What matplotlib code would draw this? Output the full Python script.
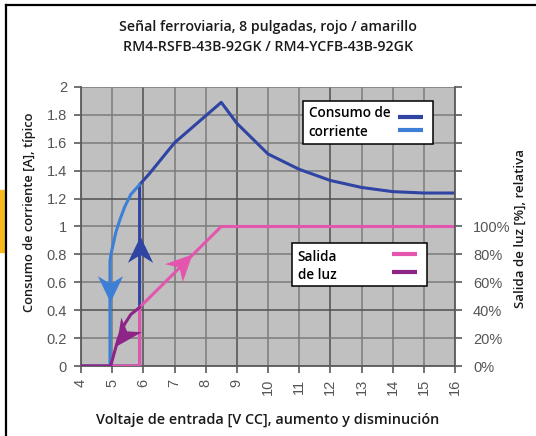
import matplotlib
matplotlib.use("Agg")
import matplotlib.pyplot as plt
from matplotlib.lines import Line2D
from matplotlib.patches import Rectangle
from matplotlib.path import Path
from matplotlib.markers import MarkerStyle
from matplotlib.transforms import Affine2D

# Data
volt_up = [4, 5.88, 5.88, 6.2, 7.0, 8.5, 9.0, 10.0, 11.0, 12.0, 13.0, 14.0, 15.0, 16.0]
amps_up = [0, 0, 1.30, 1.38, 1.60, 1.89, 1.74, 1.52, 1.41, 1.33, 1.28, 1.25, 1.24, 1.24]

volt_down = [5.88, 5.6, 5.4, 5.25, 5.12, 5.03, 4.96, 4.93, 4.93]
amps_down = [1.30, 1.23, 1.14, 1.05, 0.96, 0.87, 0.80, 0.75, 0.0]

light_up_v = [5.0, 5.88, 5.88, 8.5, 16.0]
light_up = [0, 0, 0.42, 1.0, 1.0]

light_down_v = [5.88, 5.6, 5.4, 5.2, 5.05, 4.95, 4.0]
light_down = [0.42, 0.37, 0.30, 0.20, 0.08, 0.0, 0.0]

x_ticks = list(range(4, 17))
y_ticks = [0, 0.2, 0.4, 0.6, 0.8, 1, 1.2, 1.4, 1.6, 1.8, 2]
y_tick_labels = ["0", "0.2", "0.4", "0.6", "0.8", "1", "1.2", "1.4", "1.6", "1.8", "2"]
pct_labels = ["0%", "20%", "40%", "60%", "80%", "100%"]

DARK_BLUE = "#2f44a3"
LIGHT_BLUE = "#3d7fd6"
PINK = "#e456ae"
PURPLE = "#8e2487"
TICK_GRAY = "#555555"

plt.rcParams["font.family"] = ["Open Sans", "DejaVu Sans"]

W, H = 536, 436
fig = plt.figure(figsize=(W / 100, H / 100), dpi=100)

# frame lines and orange tab
fig.add_artist(Line2D([6 / W, 6 / W], [0, 1 - 5 / H], transform=fig.transFigure, color="black", lw=1.6))
fig.add_artist(Line2D([6 / W, 1], [1 - 5 / H, 1 - 5 / H], transform=fig.transFigure, color="black", lw=1.6))
fig.add_artist(Rectangle((0, 1 - 252 / H), 5 / W, 62 / H, transform=fig.transFigure, color="#f7b81c"))

ax = fig.add_axes([81 / W, 70 / H, 374 / W, 279 / H])
ax.set_facecolor("#c0c0c0")
ax.set_xlim(4, 16)
ax.set_ylim(0, 2)

# grid
for x in x_ticks:
    c = "#4f4f4f" if x in (6, 9, 12) else "#7c7c7c"
    ax.axvline(x, color=c, lw=1.1, zorder=1)
for y in y_ticks:
    c = "#4f4f4f" if y in (0.4, 1.2) else "#7c7c7c"
    ax.axhline(y, color=c, lw=1.1, zorder=1)

for s in ["top", "right"]:
    ax.spines[s].set_visible(False)
for s in ["left", "bottom"]:
    ax.spines[s].set_color("#5a5a5a")
    ax.spines[s].set_linewidth(1.3)

tick_font = dict(fontfamily="Liberation Sans", fontsize=10.5, color=TICK_GRAY)
ax.set_xticks(x_ticks)
ax.set_xticklabels([str(x) for x in x_ticks], rotation=90, **tick_font)
ax.set_yticks(y_ticks)
ax.set_yticklabels(y_tick_labels, **tick_font)
ax.tick_params(axis="both", length=5, width=1.2, color="#5a5a5a")
ax.tick_params(axis="x", pad=4)
ax.tick_params(axis="y", pad=5)

ax2 = ax.twinx()
ax2.set_ylim(0, 2)
for s in ["top", "left", "bottom"]:
    ax2.spines[s].set_visible(False)
ax2.spines["right"].set_color("#5a5a5a")
ax2.spines["right"].set_linewidth(1.3)
ax2.set_yticks(y_ticks)
ax2.set_yticklabels(pct_labels + [""] * 5, **tick_font)
ax2.tick_params(axis="y", length=5, width=1.2, color="#5a5a5a", pad=8)

# curves
lw = 2.2
ax.plot(volt_up, amps_up, color=DARK_BLUE, lw=lw, zorder=3, solid_joinstyle="round")
ax.plot(volt_down, amps_down, color=LIGHT_BLUE, lw=lw, zorder=3, solid_joinstyle="round")
ax.plot(light_up_v, light_up, color=PINK, lw=lw, zorder=4, solid_joinstyle="round")
ax.plot(light_down_v, light_down, color=PURPLE, lw=lw, zorder=5, solid_joinstyle="round")

# direction arrows (barbed heads, tip at the marker position)
head = Path([(0, 0), (-1, 0.48), (-0.7, 0), (-1, -0.48), (0, 0)],
            [Path.MOVETO, Path.LINETO, Path.LINETO, Path.LINETO, Path.CLOSEPOLY])


def arrow(x, y, angle, color):
    m = MarkerStyle(head, transform=Affine2D().rotate_deg(angle))
    ax.plot([x], [y], marker=m, markersize=38, color=color, markeredgewidth=0, zorder=6)


arrow(4.93, 0.46, -90, LIGHT_BLUE)
arrow(5.88, 0.93, 90, DARK_BLUE)
arrow(7.55, 0.80, 45, PINK)
arrow(5.12, 0.14, 235, PURPLE)

# legend boxes
ax.add_patch(Rectangle((11.12, 1.59), 4.17, 0.31, facecolor="white", edgecolor="black", lw=1.1, zorder=7))
ax.text(11.3, 1.815, "Consumo de", fontsize=9.8, fontweight="semibold", va="center", zorder=8)
ax.text(11.3, 1.68, "corriente", fontsize=9.8, fontweight="semibold", va="center", zorder=8)
ax.plot([14.17, 14.97], [1.785, 1.785], color=DARK_BLUE, lw=3, zorder=8, solid_capstyle="butt")
ax.plot([14.17, 14.97], [1.69, 1.69], color=LIGHT_BLUE, lw=3, zorder=8, solid_capstyle="butt")

ax.add_patch(Rectangle((10.77, 0.57), 4.33, 0.31, facecolor="white", edgecolor="black", lw=1.1, zorder=7))
ax.text(10.95, 0.78, "Salida", fontsize=9.8, fontweight="semibold", va="center", zorder=8)
ax.text(10.95, 0.655, "de luz", fontsize=9.8, fontweight="semibold", va="center", zorder=8)
ax.plot([13.98, 14.78], [0.80, 0.80], color=PINK, lw=3, zorder=8, solid_capstyle="butt")
ax.plot([13.98, 14.78], [0.675, 0.675], color=PURPLE, lw=3, zorder=8, solid_capstyle="butt")

# titles and axis labels
lab = dict(ha="center", va="center", fontweight="semibold", color="#1a1a1a")
fig.text(268 / W, 1 - 27 / H, "Señal ferroviaria, 8 pulgadas, rojo / amarillo", fontsize=10.2, **lab)
fig.text(268 / W, 1 - 47 / H, "RM4-RSFB-43B-92GK / RM4-YCFB-43B-92GK", fontsize=10.2, **lab)
fig.text(30 / W, 1 - 212 / H, "Consumo de corriente [A], típico", rotation=90, fontsize=9.3, **lab)
fig.text(520 / W, 1 - 229 / H, "Salida de luz [%], relativa", rotation=90, fontsize=9.5, **lab)
fig.text(268 / W, 1 - 420 / H, "Voltaje de entrada [V CC], aumento y disminución", fontsize=10.4, **lab)

fig.savefig("out.png", dpi=100)
